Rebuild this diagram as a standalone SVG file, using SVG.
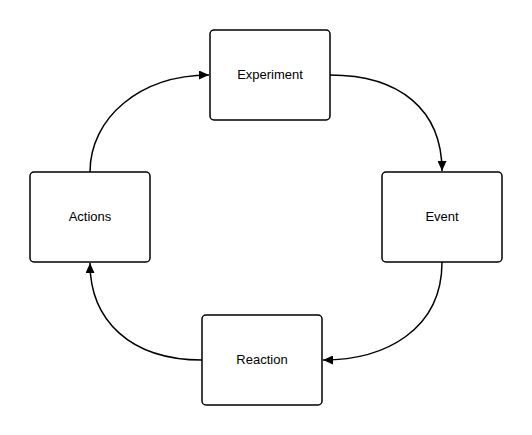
<svg xmlns="http://www.w3.org/2000/svg" width="532" height="435" viewBox="0 0 532 435">
<defs>
<style>
.box{fill:#fff;stroke:#000;stroke-width:1.5}
.lbl{font-family:"Liberation Sans",Arial,sans-serif;font-size:13px;fill:#000;text-anchor:middle;dominant-baseline:central}
.edge{fill:none;stroke:#000;stroke-width:1.5}
</style>
<marker id="arr" viewBox="0 0 10 10" refX="10" refY="5" markerWidth="10" markerHeight="9" markerUnits="userSpaceOnUse" orient="auto" preserveAspectRatio="none">
<path d="M0,0 L10,5 L0,10 z" fill="#000"/>
</marker>
</defs>
<rect width="532" height="435" fill="#fff"/>
<g id="connectors">
<path class="edge" d="M330,75 C400,75 442,110 442,171" marker-end="url(#arr)"/>
<path class="edge" d="M442,262 C442,330 385,360 323,360" marker-end="url(#arr)"/>
<path class="edge" d="M202,360 C130,360 90,320 90,263" marker-end="url(#arr)"/>
<path class="edge" d="M90,172 C90,118 140,75 209,75" marker-end="url(#arr)"/>
</g>
<g id="experiment"><rect class="box" x="210" y="30" width="120" height="90" rx="4"/><text class="lbl" x="270" y="74">Experiment</text></g>
<g id="event"><rect class="box" x="382" y="172" width="120" height="90" rx="4"/><text class="lbl" x="442" y="216">Event</text></g>
<g id="reaction"><rect class="box" x="202" y="315" width="120" height="90" rx="4"/><text class="lbl" x="262" y="359">Reaction</text></g>
<g id="actions"><rect class="box" x="30" y="172" width="120" height="90" rx="4"/><text class="lbl" x="90" y="216">Actions</text></g>
</svg>
